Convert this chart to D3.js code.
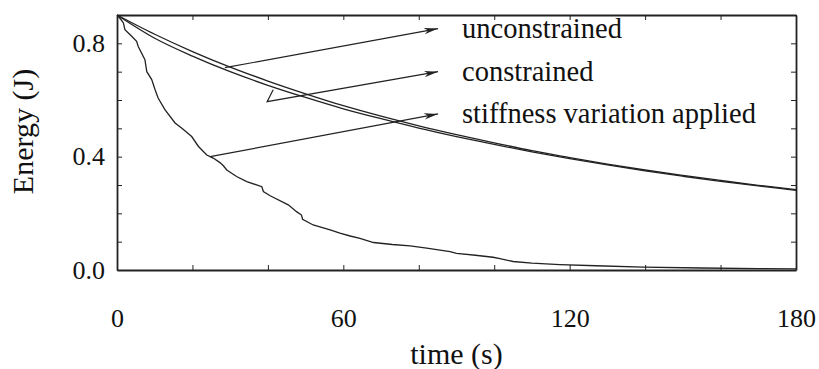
<!DOCTYPE html>
<html><head><meta charset="utf-8">
<script src="https://cdn.jsdelivr.net/npm/d3@7"></script>
<style>
body{margin:0;background:#fff;}
text{font-family:"Liberation Serif",Tinos,"Times New Roman",Times,serif;fill:#111;}
</style></head>
<body><svg id="c" width="819" height="369"></svg>
<script>
// ---- data ----
const timeGrid = [0,10,20,30,40,50,60,70,80,90,100,110,120,130,140,150,160,170,180];
const unconstrained = [0.900,0.832,0.771,0.716,0.667,0.622,0.580,0.543,0.509,0.478,0.449,0.421,0.397,0.374,0.353,0.334,0.316,0.299,0.284];
const constrained   = [0.900,0.818,0.755,0.700,0.652,0.609,0.569,0.534,0.501,0.471,0.443,0.417,0.393,0.371,0.350,0.331,0.313,0.297,0.281];
const stiffTime = [0,1.0,1.7,2.1,3.9,5.2,5.6,7.4,7.9,9.2,10.1,10.9,12.7,15.4,17.2,19.8,21.6,23.8,25.5,27.3,28.2,29.1,31.7,34.4,38.4,38.8,40.6,45.4,47.6,48.9,49.2,52.0,56.5,59.1,61.8,64.4,68.0,73,77.7,82.1,88.3,90,95,99.7,101.5,105,110,117.4,127,139.5,155,170,180];
const stiffness = [0.900,0.885,0.872,0.848,0.825,0.807,0.790,0.742,0.700,0.672,0.636,0.607,0.566,0.519,0.500,0.471,0.436,0.406,0.395,0.379,0.368,0.353,0.330,0.312,0.294,0.277,0.262,0.230,0.206,0.194,0.179,0.159,0.142,0.130,0.120,0.112,0.097,0.090,0.085,0.077,0.065,0.059,0.052,0.045,0.040,0.030,0.024,0.019,0.015,0.010,0.007,0.005,0.004];
const xTicks = [0,20,40,60,80,100,120,140,160,180];
const xTickLabels = [0,60,120,180];
const yTicks = [0,0.1,0.2,0.3,0.4,0.5,0.6,0.7,0.8,0.9];
const yTickLabels = [0.0,0.4,0.8];
const labels = ["unconstrained","constrained","stiffness variation applied"];
// arrow: tail point(s) on the curve -> tip (data units)
const arrowTails = [[[28.6,0.714]],[[41.4,0.636],[39.8,0.594]],[[24.7,0.400]]];
const arrowTips  = [[85.1,0.852],[85.1,0.700],[85.1,0.551]];

// ---- chart ----
const W=819,H=369, m={l:117,r:23,t:15,b:99};
const svg=d3.select("#c");
const x=d3.scaleLinear().domain([0,180]).range([m.l,W-m.r]);
const y=d3.scaleLinear().domain([0,0.9]).range([H-m.b,m.t]);

const defs=svg.append("defs");
defs.append("marker").attr("id","ah").attr("viewBox","0 0 14 8").attr("refX",14).attr("refY",4)
  .attr("markerWidth",14).attr("markerHeight",8).attr("markerUnits","userSpaceOnUse").attr("orient","auto")
  .append("path").attr("d","M0,0.8 L14,4 L0,7.2 L4,4 Z").attr("fill","#222");

const fmtX=d=>xTickLabels.includes(d)?String(d):"";
const fmtY=d=>yTickLabels.some(v=>Math.abs(v-d)<1e-9)?d3.format(".1f")(d):"";

const gB=svg.append("g").attr("transform",`translate(0,${H-m.b})`)
  .call(d3.axisBottom(x).tickValues(xTicks).tickSizeInner(-5).tickSizeOuter(0).tickPadding(39).tickFormat(fmtX));
const gT=svg.append("g").attr("transform",`translate(0,${m.t})`)
  .call(d3.axisTop(x).tickValues(xTicks).tickSizeInner(-5).tickSizeOuter(0).tickFormat(""));
const gL=svg.append("g").attr("transform",`translate(${m.l},0)`)
  .call(d3.axisLeft(y).tickValues(yTicks).tickSizeInner(-5).tickSizeOuter(0).tickPadding(12).tickFormat(fmtY));
const gR=svg.append("g").attr("transform",`translate(${W-m.r},0)`)
  .call(d3.axisRight(y).tickValues(yTicks).tickSizeInner(-5).tickSizeOuter(0).tickFormat(""));
[gB,gT,gL,gR].forEach(g=>{
  g.selectAll("path.domain").attr("stroke","#222").attr("stroke-width",1.8);
  g.selectAll(".tick line").attr("stroke","#222").attr("stroke-width",1);
  g.selectAll("text").attr("font-size",26).attr("fill","#111");
});

const line=d3.line().x(d=>x(d[0])).y(d=>y(d[1]));
const series=[d3.zip(timeGrid,unconstrained),d3.zip(timeGrid,constrained),d3.zip(stiffTime,stiffness)];
const curve=d3.line().x(d=>x(d[0])).y(d=>y(d[1])).curve(d3.curveMonotoneX);
series.forEach((s,i)=>{
  svg.append("path").attr("d",i<2?curve(s):line(s)).attr("fill","none")
    .attr("stroke","#222").attr("stroke-width",1.3);
});

arrowTails.forEach((tail,i)=>{
  const pts=tail.concat([arrowTips[i]]);
  svg.append("path").attr("d",line(pts)).attr("fill","none").attr("stroke","#222")
    .attr("stroke-width",1.2).attr("marker-end","url(#ah)");
  svg.append("text").attr("x",x(arrowTips[i][0])+24).attr("y",y(arrowTips[i][1]))
    .attr("dy","0.32em").attr("font-size",28.5).text(labels[i]);
});

svg.append("text").attr("x",(m.l+W-m.r)/2).attr("y",H-5).attr("text-anchor","middle")
  .attr("font-size",30).text("time (s)");
svg.append("text").attr("transform",`translate(33,${(m.t+H-m.b)/2-11}) rotate(-90)`)
  .attr("text-anchor","middle").attr("font-size",30).text("Energy (J)");
</script></body></html>
